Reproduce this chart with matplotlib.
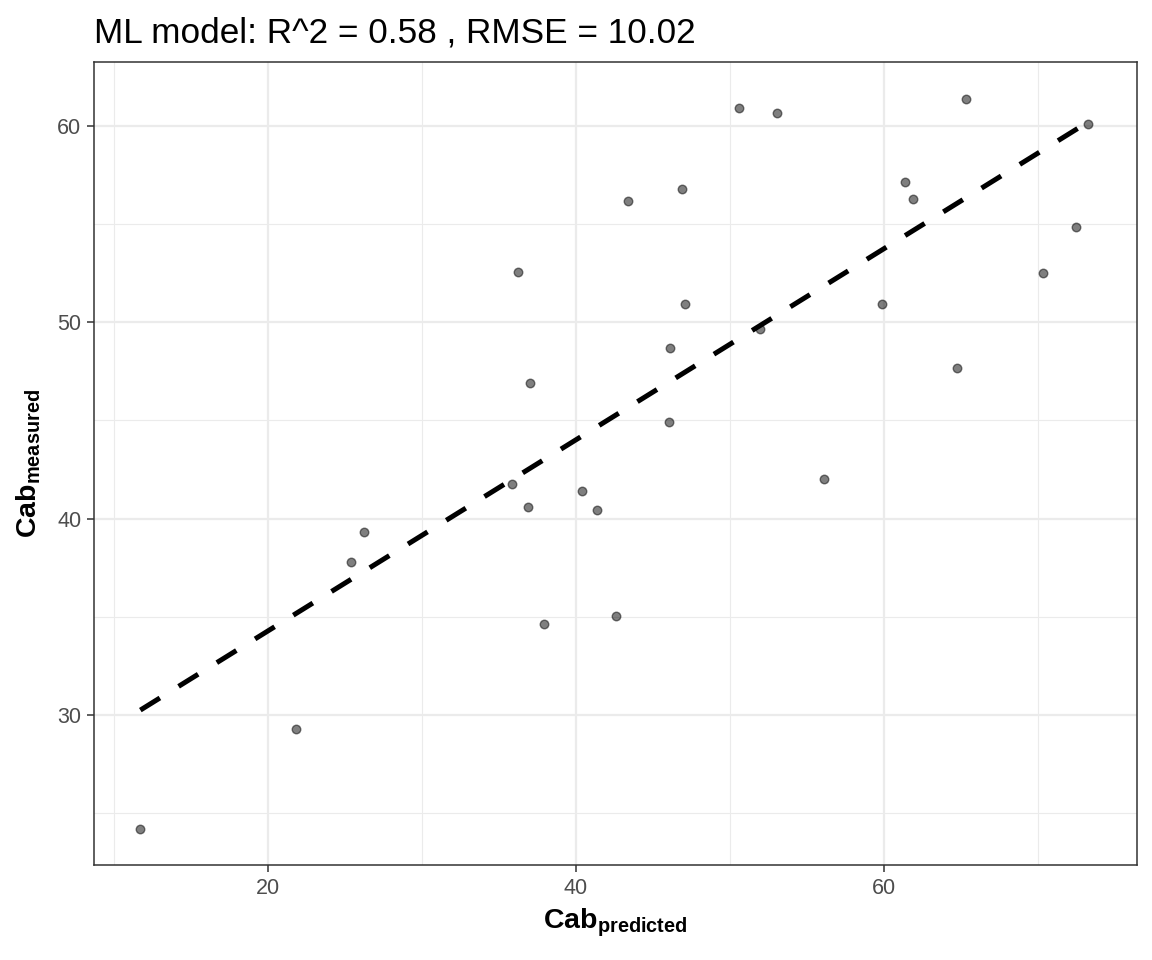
import matplotlib
matplotlib.use("Agg")
import matplotlib.pyplot as plt
from matplotlib.ticker import MultipleLocator
import numpy as np

plt.rcParams['font.family'] = ['Liberation Sans', 'DejaVu Sans']
plt.rcParams['mathtext.fontset'] = 'custom'
plt.rcParams['mathtext.rm'] = 'Liberation Sans'
plt.rcParams['mathtext.bf'] = 'Liberation Sans:bold'

# values
cab_predicted = [11.71, 21.81, 25.37, 26.25, 35.83, 36.88, 40.42, 41.39, 37.92, 42.62,
                 50.56, 53.07, 43.39, 46.89, 36.24, 47.08, 51.97, 46.09, 37.00, 46.03,
                 65.31, 73.24, 61.38, 61.86, 72.48, 70.35, 59.89, 64.77, 56.13]
cab_measured = [24.19, 29.29, 37.81, 39.34, 41.76, 40.59, 41.41, 40.42, 34.61, 35.05,
                60.92, 60.68, 56.20, 56.80, 52.58, 50.95, 49.66, 48.68, 46.90, 44.92,
                61.35, 60.10, 57.16, 56.30, 54.86, 52.51, 50.93, 47.67, 42.04]
title_text = "ML model: R^2 = 0.58 , RMSE = 10.02"

x = np.array(cab_predicted)
y = np.array(cab_measured)

fig = plt.figure(figsize=(11.52, 9.6), dpi=100)
ax = fig.add_axes([94/1152, 1-865/960, (1137-94)/1152, (865-62)/960])

ax.scatter(x, y, s=38, c='black', alpha=0.5, edgecolors='black', linewidths=1.0, zorder=3)

# linear fit over the range of predictions
slope, intercept = np.polyfit(x, y, 1)
xs = np.array([x.min(), x.max()])
ax.plot(xs, intercept + slope*xs, color='black', linewidth=3.6,
        dashes=(4.6, 4.4), dash_capstyle='butt', zorder=4)

ax.set_xlim(8.70, 76.43)
ax.set_ylim(22.35, 63.26)
ax.xaxis.set_major_locator(MultipleLocator(20))
ax.xaxis.set_minor_locator(MultipleLocator(10))
ax.yaxis.set_major_locator(MultipleLocator(10))
ax.yaxis.set_minor_locator(MultipleLocator(5))

ax.grid(which='major', color='#EBEBEB', linewidth=1.6, zorder=0)
ax.grid(which='minor', color='#EBEBEB', linewidth=0.8, zorder=0)
ax.set_axisbelow(True)
ax.tick_params(which='major', length=5, width=1.1, color='#333333',
               labelsize=15.5, labelcolor='#4D4D4D', pad=4)
ax.tick_params(which='minor', length=0)
for sp in ax.spines.values():
    sp.set_color('#333333')
    sp.set_linewidth(1.1)

ax.set_xlabel(r'$\mathbf{Cab}_{\mathbf{predicted}}$', fontsize=20.5, labelpad=6)
ax.set_ylabel(r'$\mathbf{Cab}_{\mathbf{measured}}$', fontsize=20.5, labelpad=10)
ax.set_title(title_text, fontsize=25.3, loc='left', pad=14)

fig.savefig('out.png', dpi=100)
